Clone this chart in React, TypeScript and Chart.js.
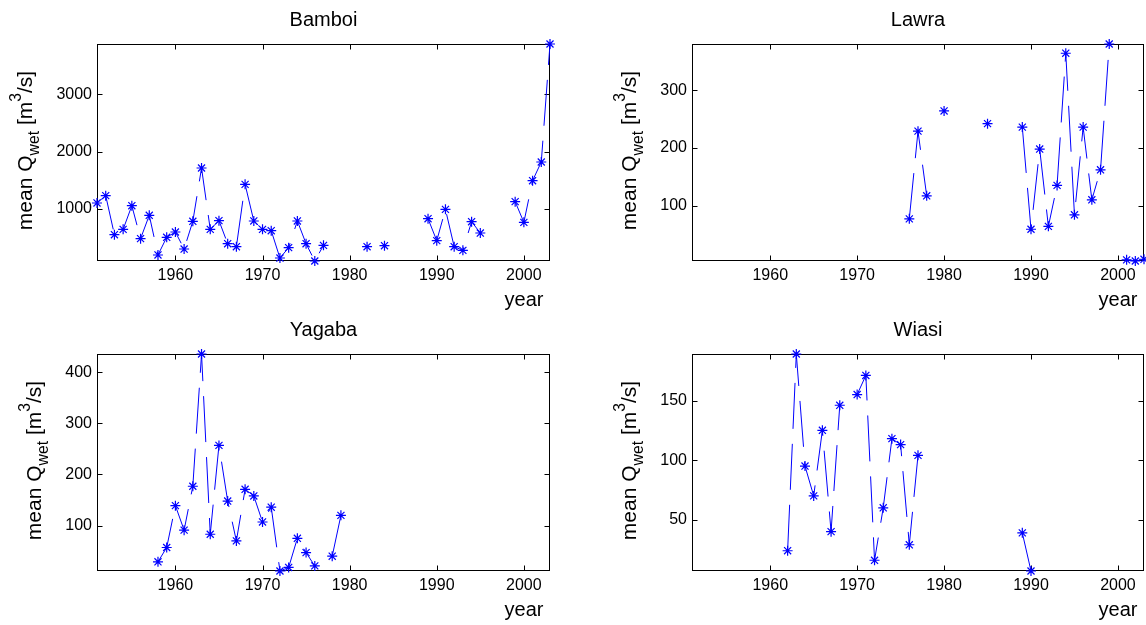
import { useEffect, useRef } from "react";
import { Chart, registerables } from "chart.js";

Chart.register(...registerables);

const years = [
  1951, 1952, 1953, 1954, 1955, 1956, 1957, 1958, 1959, 1960,
  1961, 1962, 1963, 1964, 1965, 1966, 1967, 1968, 1969, 1970,
  1971, 1972, 1973, 1974, 1975, 1976, 1977, 1978, 1979, 1980,
  1981, 1982, 1983, 1984, 1985, 1986, 1987, 1988, 1989, 1990,
  1991, 1992, 1993, 1994, 1995, 1996, 1997, 1998, 1999, 2000,
  2001, 2002, 2003,
];

const bamboiQ = [
  1105, 1233, 552, 645, 1058, 483, 890, 198, 506, 599,
  302, 785, 1715, 645, 797, 395, 343, 1430, 791, 645,
  622, 145, 326, 791, 395, 93, 366, null, null, null,
  null, 343, null, 360, null, null, null, null, 831, 448,
  994, 343, 279, 779, 581, null, null, null, 1128, 767,
  1494, 1820, 3878,
];

const lawraQ = [
  null, null, null, null, null, null, null, null, null, null,
  null, null, null, null, null, null, null, null, null, null,
  null, null, null, null, null, 77, 229, 117, null, 264,
  null, null, null, null, 242, null, null, null, 236, 59,
  198, 64, 135, 364, 84, 236, 110, 162, 380, null,
  6, 4, 7,
];

const yagabaQ = [
  null, null, null, null, null, null, null, 29, 57, 139,
  91, 177, 436, 83, 257, 148, 70, 171, 158, 107,
  136, 11, 18, 75, 47, 21, null, 40, 120, null,
  null, null, null, null, null, null, null, null, null, null,
  null, null, null, null, null, null, null, null, null, null,
  null, null, null,
];

const wiasiQ = [
  null, null, null, null, null, null, null, null, null, null,
  null, 24, 189, 95, 70, 125, 40, 146, null, 155,
  171, 16, 60, 118, 113, 29, 104, null, null, null,
  null, null, null, null, null, null, null, null, 39, 7,
  null, null, null, null, null, null, null, null, null, null,
  null, null, null,
];

const xTicks = [1960, 1970, 1980, 1990, 2000];
const bamboiTicks = [1000, 2000, 3000];
const lawraTicks = [100, 200, 300];
const yagabaTicks = [100, 200, 300, 400];
const wiasiTicks = [50, 100, 150];

const xMin = 1951;
const xMax = 2003;
const xLabel = "year";

const FONT = '"Liberation Sans", Arial, Helvetica, sans-serif';
const TICK_SIZE = 16;
const LABEL_SIZE = 20;
const YLABEL_SIZE = 21;

type Area = { left: number; right: number; top: number; bottom: number };

function drawYLabel(ctx: CanvasRenderingContext2D, cx: number, cy: number, F: number) {
  const parts = [
    { t: "mean Q", s: F, dy: 0 },
    { t: "wet", s: F * 0.75, dy: F * 0.3 },
    { t: " [m", s: F, dy: 0 },
    { t: "3", s: F * 0.75, dy: -F * 0.55 },
    { t: "/s]", s: F, dy: 0 },
  ];
  let total = 0;
  const widths: number[] = [];
  for (const p of parts) {
    ctx.font = `${p.s}px ${FONT}`;
    const w = ctx.measureText(p.t).width;
    widths.push(w);
    total += w;
  }
  ctx.save();
  ctx.translate(cx, cy);
  ctx.rotate(-Math.PI / 2);
  ctx.textAlign = "left";
  ctx.textBaseline = "alphabetic";
  ctx.fillStyle = "#000";
  let x = -total / 2;
  parts.forEach((p, i) => {
    ctx.font = `${p.s}px ${FONT}`;
    ctx.fillText(p.t, x, p.dy);
    x += widths[i];
  });
  ctx.restore();
}

type PanelProps = {
  title: string;
  values: (number | null)[];
  yTicks: number[];
  left: number;
  top: number;
  width: number;
  height: number;
  area: Area;
};

function Panel({ title, values, yTicks, left, top, width, height, area }: PanelProps) {
  const ref = useRef<HTMLCanvasElement | null>(null);

  useEffect(() => {
    if (!ref.current) return;
    const present = values.filter((v) => v !== null) as number[];
    const yMin = Math.min(...present);
    const yMax = Math.max(...present);

    const boxPlugin = {
      id: "boxTicks",
      beforeDatasetsDraw(chart: any) {
        const { ctx, chartArea: a, scales } = chart;
        const xs = scales.x;
        const ys = scales.y;
        ctx.save();
        ctx.strokeStyle = "#000";
        ctx.lineWidth = 1;
        const L = Math.round(a.left) + 0.5;
        const R = Math.round(a.right) - 0.5;
        const T = Math.round(a.top) + 0.5;
        const B = Math.round(a.bottom) - 0.5;
        ctx.strokeRect(L, T, R - L, B - T);
        const tl = 5;
        ctx.beginPath();
        for (const t of xs.ticks) {
          const px = Math.round(xs.getPixelForValue(t.value)) + 0.5;
          ctx.moveTo(px, B);
          ctx.lineTo(px, B - tl);
          ctx.moveTo(px, T);
          ctx.lineTo(px, T + tl);
        }
        for (const t of ys.ticks) {
          const py = Math.round(ys.getPixelForValue(t.value)) + 0.5;
          ctx.moveTo(L, py);
          ctx.lineTo(L + tl, py);
          ctx.moveTo(R, py);
          ctx.lineTo(R - tl, py);
        }
        ctx.stroke();
        ctx.restore();
      },
      afterDraw(chart: any) {
        const { ctx, chartArea: a, scales } = chart;
        const ys = scales.y;
        ctx.save();
        ctx.fillStyle = "#000";
        ctx.font = `${LABEL_SIZE}px ${FONT}`;
        ctx.textAlign = "center";
        ctx.textBaseline = "alphabetic";
        ctx.fillText(title, (a.left + a.right) / 2, a.top - 18);
        ctx.fillText(xLabel, a.right - 26, a.bottom + 45);
        ctx.font = `${TICK_SIZE}px ${FONT}`;
        let maxW = 0;
        for (const t of ys.ticks) {
          maxW = Math.max(maxW, ctx.measureText(String(t.value)).width);
        }
        ctx.restore();
        drawYLabel(ctx, a.left - 5 - maxW - 24, (a.top + a.bottom) / 2 - 2, YLABEL_SIZE);
      },
    };

    const chart = new Chart(ref.current, {
      type: "line",
      data: {
        datasets: [
          {
            data: years.map((x, i) => ({ x, y: values[i] })) as any,
            borderColor: "#0000ff",
            borderWidth: 1,
            borderDash: [46, 15],
            pointStyle: "star",
            pointRadius: 5,
            pointBorderColor: "#0000ff",
            pointBackgroundColor: "#0000ff",
            pointBorderWidth: 1.2,
            spanGaps: false,
            clip: false as any,
            tension: 0,
            fill: false,
          },
        ],
      },
      options: {
        animation: false,
        responsive: false,
        devicePixelRatio: 1,
        events: [],
        layout: {
          autoPadding: false,
          padding: { left: 0, top: area.top, right: width - area.right, bottom: 0 },
        },
        plugins: {
          legend: { display: false },
          tooltip: { enabled: false },
          title: { display: false },
        },
        scales: {
          x: {
            type: "linear",
            min: xMin,
            max: xMax,
            grid: { display: false, drawTicks: false },
            border: { display: false },
            ticks: {
              color: "#000",
              font: { family: FONT, size: TICK_SIZE },
              padding: 5,
              maxRotation: 0,
              autoSkip: false,
              callback: (v: any) => String(v),
            },
            afterBuildTicks: (s: any) => {
              s.ticks = xTicks.map((v) => ({ value: v }));
            },
            afterFit: (s: any) => {
              s.height = height - area.bottom;
            },
          },
          y: {
            type: "linear",
            min: yMin,
            max: yMax,
            grid: { display: false, drawTicks: false },
            border: { display: false },
            ticks: {
              color: "#000",
              font: { family: FONT, size: TICK_SIZE },
              padding: 5,
              autoSkip: false,
              callback: (v: any) => String(v),
            },
            afterBuildTicks: (s: any) => {
              s.ticks = yTicks.map((v) => ({ value: v }));
            },
            afterFit: (s: any) => {
              s.width = area.left;
            },
          },
        },
      } as any,
      plugins: [boxPlugin],
    });
    return () => chart.destroy();
  }, []);

  return (
    <canvas
      ref={ref}
      width={width}
      height={height}
      style={{ position: "absolute", left, top, width, height, display: "block" }}
    />
  );
}

export default function App() {
  return (
    <div
      style={{
        position: "absolute",
        left: 0,
        top: 0,
        width: 1146,
        height: 625,
        background: "#fff",
        overflow: "hidden",
      }}
    >
      <Panel
        title="Bamboi"
        values={bamboiQ}
        yTicks={bamboiTicks}
        left={0}
        top={0}
        width={573}
        height={312}
        area={{ left: 97, right: 550, top: 44, bottom: 261 }}
      />
      <Panel
        title="Lawra"
        values={lawraQ}
        yTicks={lawraTicks}
        left={573}
        top={0}
        width={573}
        height={312}
        area={{ left: 119, right: 571, top: 44, bottom: 261 }}
      />
      <Panel
        title="Yagaba"
        values={yagabaQ}
        yTicks={yagabaTicks}
        left={0}
        top={312}
        width={573}
        height={313}
        area={{ left: 97, right: 550, top: 42, bottom: 259 }}
      />
      <Panel
        title="Wiasi"
        values={wiasiQ}
        yTicks={wiasiTicks}
        left={573}
        top={312}
        width={573}
        height={313}
        area={{ left: 119, right: 571, top: 42, bottom: 259 }}
      />
    </div>
  );
}
